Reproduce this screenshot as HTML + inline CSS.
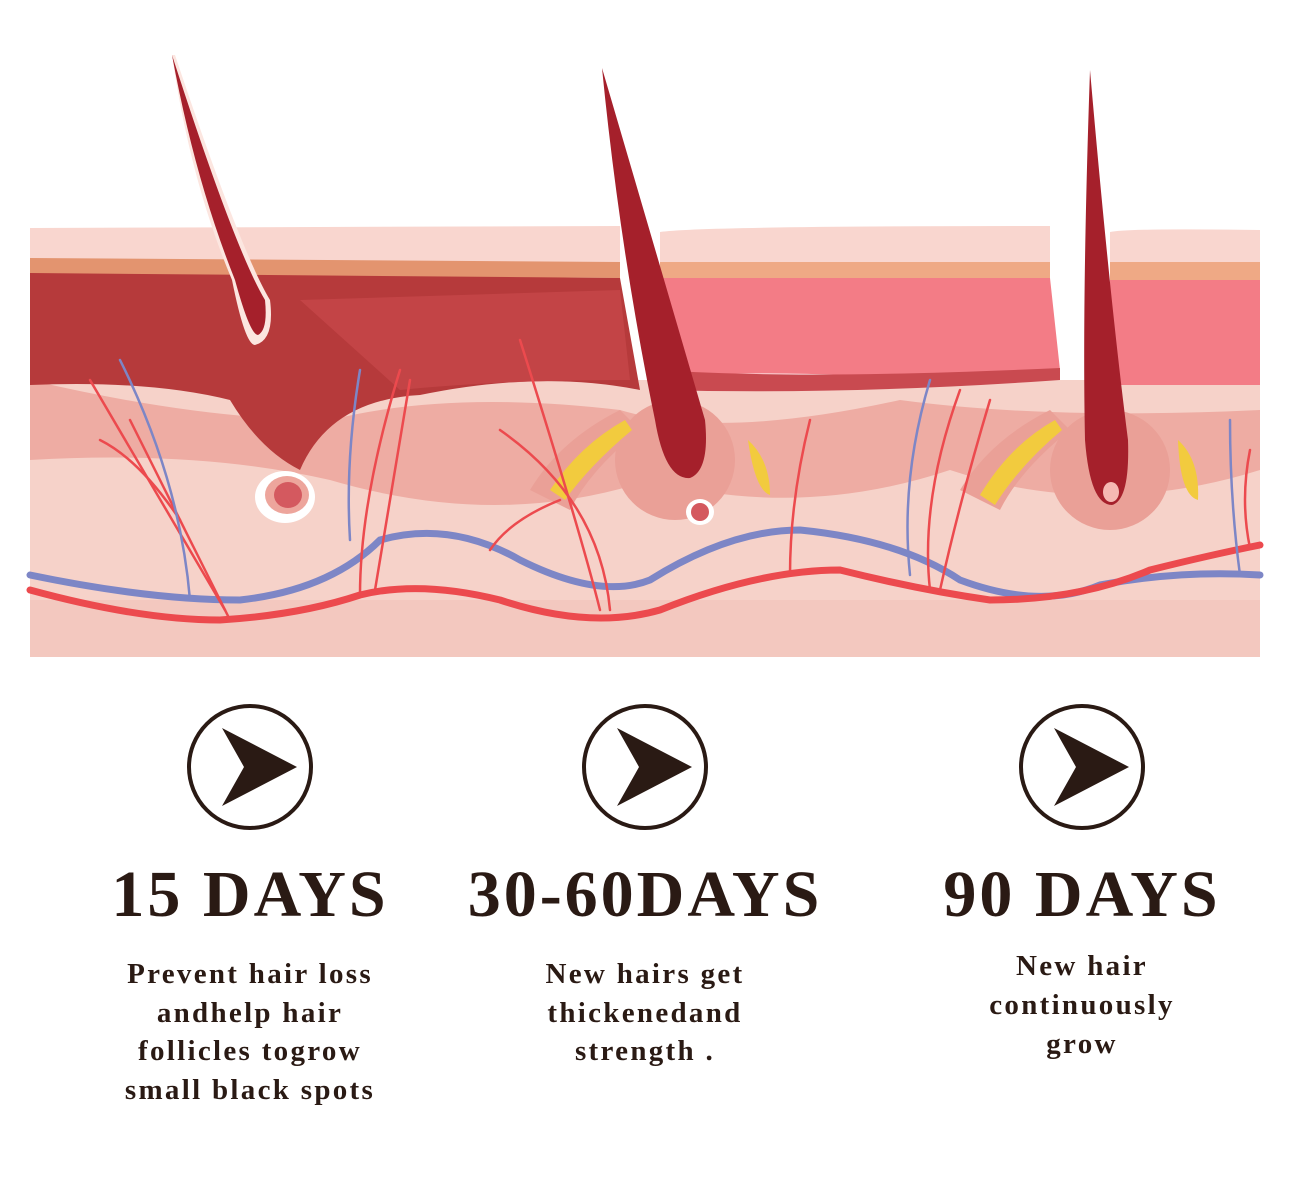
<!DOCTYPE html>
<html><head><meta charset="utf-8"><style>
html,body{margin:0;padding:0;background:#fff;width:1290px;height:1193px;overflow:hidden}
.t{position:absolute;font-family:"Liberation Serif",serif;font-weight:bold;color:#2a1a14;text-align:center;white-space:nowrap}
.h{font-size:66px;line-height:74px;letter-spacing:3px}
.d{font-size:29px;letter-spacing:2.3px}
</style></head><body>
<svg width="1290" height="1193" style="position:absolute;left:0;top:0">
<rect x="30" y="380" width="1230" height="277" fill="#f6d2c9"/>
<rect x="30" y="600" width="1230" height="57" fill="#f3c8bf"/>
<path d="M30 228 L620 226 L620 262 L30 262Z" fill="#f9d6cf"/>
<path d="M660 232 Q700 226 1050 226 L1050 262 L660 262Z" fill="#f9d6cf"/>
<path d="M1110 232 Q1130 228 1260 230 L1260 262 L1110 262Z" fill="#f9d6cf"/>
<path d="M30 258 L620 262 L620 278 L30 275Z" fill="#e3946f"/>
<path d="M660 262 L1050 262 L1050 278 L660 278Z" fill="#efa985"/>
<path d="M1110 262 L1260 262 L1260 280 L1110 280Z" fill="#efa985"/>
<path d="M30 380 Q200 420 330 420 Q450 390 620 410 Q720 440 900 400 Q1050 420 1260 410 L1260 470 Q1100 520 950 470 Q800 520 650 480 Q500 530 330 480 Q200 450 30 460Z" fill="#eeaca3"/>
<path d="M30 273 L620 278 L640 390 Q540 370 420 395 Q330 400 300 470 Q260 450 230 400 Q150 380 30 385Z" fill="#b63a3b"/>
<path d="M300 300 L620 290 L630 380 Q500 380 400 390Z" fill="#c9484c" opacity=".7"/>
<path d="M660 278 L1050 278 L1060 370 Q950 380 850 375 Q760 372 700 375 L660 372Z" fill="#f37c86"/>
<path d="M1110 280 L1260 280 L1260 385 L1110 385Z" fill="#f37c86"/>
<path d="M660 370 Q800 380 1060 368 L1060 380 Q850 395 660 390Z" fill="#c94a50"/>
<ellipse cx="675" cy="460" rx="60" ry="60" fill="#eaa097"/>
<ellipse cx="1110" cy="470" rx="60" ry="60" fill="#eaa097"/>
<path d="M530 490 Q560 440 620 410 L640 430 Q590 470 570 510Z" fill="#eaa097"/>
<path d="M960 490 Q990 440 1050 410 L1070 430 Q1020 470 1000 510Z" fill="#eaa097"/>
<path d="M550 490 Q580 445 625 420 L632 430 Q590 465 565 500Z" fill="#f2cb3e"/>
<path d="M980 495 Q1010 445 1055 420 L1062 430 Q1020 465 995 505Z" fill="#f2cb3e"/>
<path d="M748 440 Q770 460 770 495 Q755 490 748 440Z" fill="#f2cb3e"/>
<path d="M1178 440 Q1200 460 1198 500 Q1180 495 1178 440Z" fill="#f2cb3e"/>
<ellipse cx="285" cy="497" rx="30" ry="26" fill="#fff"/>
<ellipse cx="287" cy="495" rx="22" ry="19" fill="#eda59c"/>
<ellipse cx="288" cy="495" rx="14" ry="13" fill="#d4595f"/>
<ellipse cx="700" cy="512" rx="14" ry="13" fill="#fff"/>
<ellipse cx="700" cy="512" rx="9" ry="9" fill="#d4595f"/>
<path d="M172 55 Q190 180 232 280 Q245 345 255 345 Q275 340 270 300 Q240 250 175 55Z" fill="#fce6e0"/>
<path d="M172 55 Q195 180 235 280 Q250 335 258 335 Q268 330 265 300 Q235 250 172 55Z" fill="#a5202b"/>
<path d="M602 68 Q620 250 655 420 Q665 480 690 478 Q710 470 705 420 Q670 300 602 68Z" fill="#a5202b"/>
<path d="M1090 70 Q1082 300 1085 440 Q1090 505 1112 505 Q1130 500 1128 440 Q1110 300 1090 70Z" fill="#a5202b"/>
<ellipse cx="1111" cy="492" rx="8" ry="10" fill="#f5b9b3"/>
<g fill="none" stroke-linecap="round">
<path d="M30 575 Q150 600 240 600 Q330 590 380 540 Q450 520 520 560 Q600 600 650 580 Q730 530 800 530 Q900 540 960 580 Q1040 610 1100 585 Q1180 570 1260 575" stroke="#7d86c6" stroke-width="7"/>
<path d="M30 590 Q140 620 220 620 Q300 615 360 595 Q420 580 500 600 Q590 630 660 610 Q760 570 840 570 Q920 590 990 600 Q1080 600 1150 570 Q1210 555 1260 545" stroke="#ec4a4e" stroke-width="7"/>
<g stroke="#ec4a4e" stroke-width="2.5">
<path d="M230 620 Q180 520 130 420"/><path d="M225 610 Q160 500 90 380"/><path d="M180 520 Q140 460 100 440"/>
<path d="M360 595 Q360 500 400 370"/><path d="M375 590 Q390 500 410 380"/>
<path d="M610 610 Q600 500 500 430"/><path d="M600 610 Q580 530 520 340"/><path d="M560 500 Q510 520 490 550"/>
<path d="M790 575 Q790 500 810 420"/><path d="M930 590 Q920 500 960 390"/><path d="M940 590 Q960 500 990 400"/>
<path d="M1250 548 Q1240 500 1250 450"/>
</g>
<g stroke="#7d86c6" stroke-width="2.5">
<path d="M190 600 Q180 480 120 360"/><path d="M350 540 Q345 460 360 370"/><path d="M910 575 Q900 480 930 380"/><path d="M1240 575 Q1230 500 1230 420"/>
</g>
</g>
<g fill="none" stroke="#2a1a14" stroke-width="4">
<circle cx="250" cy="767" r="61"/><circle cx="645" cy="767" r="61"/><circle cx="1082" cy="767" r="61"/>
</g>
<g fill="#2a1a14">
<path d="M222 728 L297 767 L222 806 L244 767Z"/>
<path d="M617 728 L692 767 L617 806 L639 767Z"/>
<path d="M1054 728 L1129 767 L1054 806 L1076 767Z"/>
</g>
</svg>
<div class="t h" style="left:0px;width:500px;top:858px">15 DAYS</div>
<div class="t h" style="left:395px;width:500px;top:858px">30-60DAYS</div>
<div class="t h" style="left:832px;width:500px;top:858px">90 DAYS</div>
<div class="t d" style="left:50px;width:400px;top:955px;line-height:38.5px">Prevent hair loss<br>andhelp hair<br>follicles togrow<br>small black spots</div>
<div class="t d" style="left:445px;width:400px;top:955px;line-height:38.5px">New hairs get<br>thickenedand<br>strength .</div>
<div class="t d" style="left:882px;width:400px;top:947px;line-height:39px">New hair<br>continuously<br>grow</div>
</body></html>
